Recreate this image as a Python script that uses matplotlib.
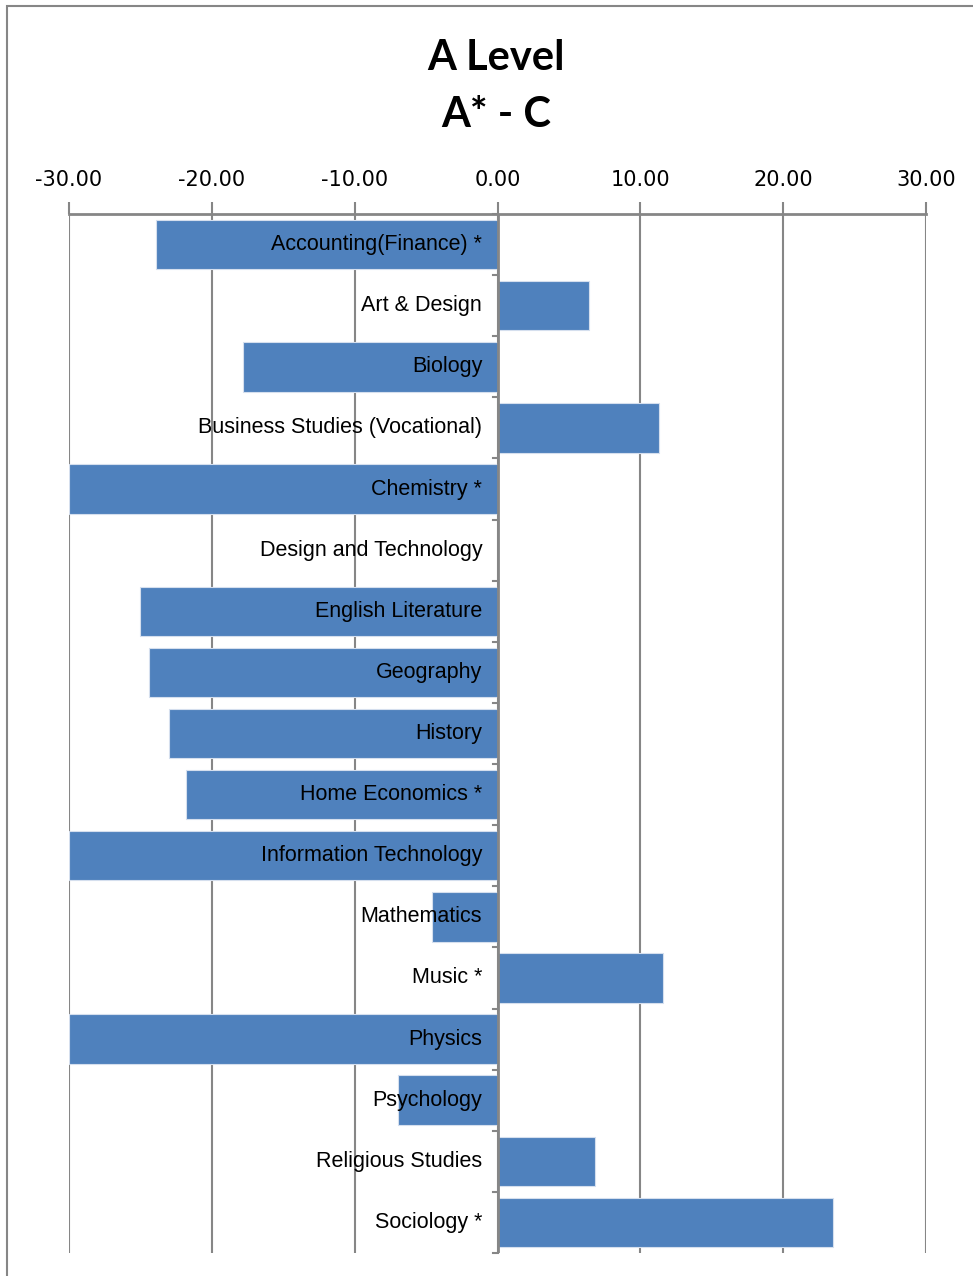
import matplotlib
matplotlib.use("Agg")
import matplotlib.pyplot as plt
from matplotlib.patches import Rectangle

fag = [
    "Accounting(Finance) *",
    "Art & Design",
    "Biology",
    "Business Studies (Vocational)",
    "Chemistry *",
    "Design and Technology",
    "English Literature",
    "Geography",
    "History",
    "Home Economics *",
    "Information Technology",
    "Mathematics",
    "Music *",
    "Physics",
    "Psychology",
    "Religious Studies",
    "Sociology *",
]
vaerdier = [-23.9, 6.4, -17.8, 11.3, -30.0, 0.0, -25.0, -24.4, -23.0, -21.8,
            -30.0, -4.6, 11.6, -30.0, -7.0, 6.8, 23.5]
x_ticks = [-30, -20, -10, 0, 10, 20, 30]

bar_farve = "#4f81bd"
grid_farve = "#868686"

fig = plt.figure(figsize=(9.73, 12.76), dpi=100)
ax = fig.add_axes([69 / 973, 1 - 1253 / 1276, 857 / 973, (1253 - 214) / 1276])

# ramme omkring hele diagrammet
fig.patches.append(Rectangle((7 / 973, -0.1), 1.2, 1.1 - 6 / 1276,
                             transform=fig.transFigure, fill=False,
                             edgecolor=grid_farve, linewidth=1.5))

pos = list(range(len(fag)))
ax.barh(pos, vaerdier, height=0.81, color=bar_farve, edgecolor="#d5dfee",
        linewidth=0.8, zorder=3)

for i, navn in enumerate(fag):
    ax.annotate(navn, xy=(0, i), xytext=(-11, 0), textcoords="offset points",
                ha="right", va="center", fontsize=15.5,
                family="Liberation Sans", zorder=5)

ax.set_xlim(-30, 30)
ax.set_ylim(len(fag) - 0.5, -0.5)
ax.set_xticks(x_ticks)
ax.set_xticklabels([f"{t:.2f}" for t in x_ticks], fontsize=15)
ax.xaxis.tick_top()
ax.tick_params(axis="x", direction="out", length=9, width=1.5,
               color=grid_farve, pad=8)
ax.set_yticks([])
ax.grid(axis="x", color=grid_farve, linewidth=1.5, zorder=0)
ax.set_axisbelow(True)

for side in ["left", "right", "bottom"]:
    ax.spines[side].set_visible(False)
ax.spines["top"].set_color(grid_farve)
ax.spines["top"].set_linewidth(2)

# lodret akse ved 0 med små streger mellem kategorierne
ax.axvline(0, color=grid_farve, linewidth=2, zorder=4)
for k in range(len(fag) + 1):
    ax.plot([-0.35, 0], [k - 0.5, k - 0.5], color=grid_farve, linewidth=1.5,
            zorder=4, clip_on=False)

fig.text(496 / 973, 1 - 58 / 1276, "A Level", ha="center", va="center",
         fontsize=30, fontweight="bold", family="Lato")
fig.text(496 / 973, 1 - 115 / 1276, "A* - C", ha="center", va="center",
         fontsize=30, fontweight="bold", family="Lato")

fig.savefig("out.png", dpi=100)
